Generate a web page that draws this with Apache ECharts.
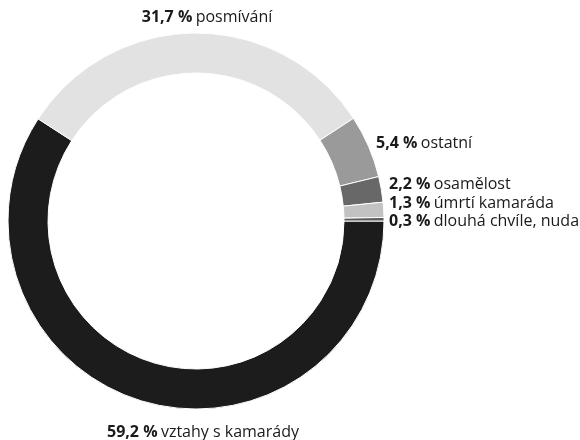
<!DOCTYPE html>
<html>
<head>
<meta charset="utf-8">
<script src="https://cdn.jsdelivr.net/npm/echarts@6/dist/echarts.min.js"></script>
<style>
  html, body { margin: 0; padding: 0; background: #fff; }
  #chart { width: 580px; height: 440px; }
</style>
</head>
<body>
<div id="chart"></div>
<script>
// data
var categories = ['vztahy s kamarády', 'posmívání', 'ostatní', 'osamělost', 'úmrtí kamaráda', 'dlouhá chvíle, nuda'];
var values = [59.2, 31.7, 5.4, 2.2, 1.3, 0.3];
var colors = ['#1c1c1c', '#e2e2e2', '#9a9a9a', '#686868', '#c2c2c2', '#5a5a5a'];

// label anchors (x, y, align) for each slice
var labelPos = [
    [203, 432, 'center'],
    [207, 17, 'center'],
    [376, 143, 'left'],
    [389, 184, 'left'],
    [389, 203, 'left'],
    [389, 221, 'left']
];

var chart = echarts.init(document.getElementById('chart'));

var option = {
    backgroundColor: '#fff',
    animation: false,
    series: [{
        type: 'pie',
        center: [196, 221],
        radius: [148, 188],
        startAngle: 0,
        clockwise: true,
        avoidLabelOverlap: false,
        itemStyle: { borderColor: '#fff', borderWidth: 1 },
        label: {
            show: true,
            position: 'outside',
            formatter: function (p) {
                return '{b|' + String(p.value).replace('.', ',') + ' %} {n|' + p.name + '}';
            },
            rich: {
                b: { fontFamily: 'Open Sans', fontWeight: 'bold', fontSize: 16, color: '#1a1a1a' },
                n: { fontFamily: 'Open Sans', fontSize: 16, color: '#1a1a1a' }
            }
        },
        labelLine: { show: false },
        labelLayout: function (params) {
            var p = labelPos[params.dataIndex];
            return { x: p[0], y: p[1], align: p[2], verticalAlign: 'middle' };
        },
        emphasis: { disabled: true },
        data: categories.map(function (c, i) {
            return { name: c, value: values[i], itemStyle: { color: colors[i] } };
        })
    }]
};

chart.setOption(option);
</script>
</body>
</html>
